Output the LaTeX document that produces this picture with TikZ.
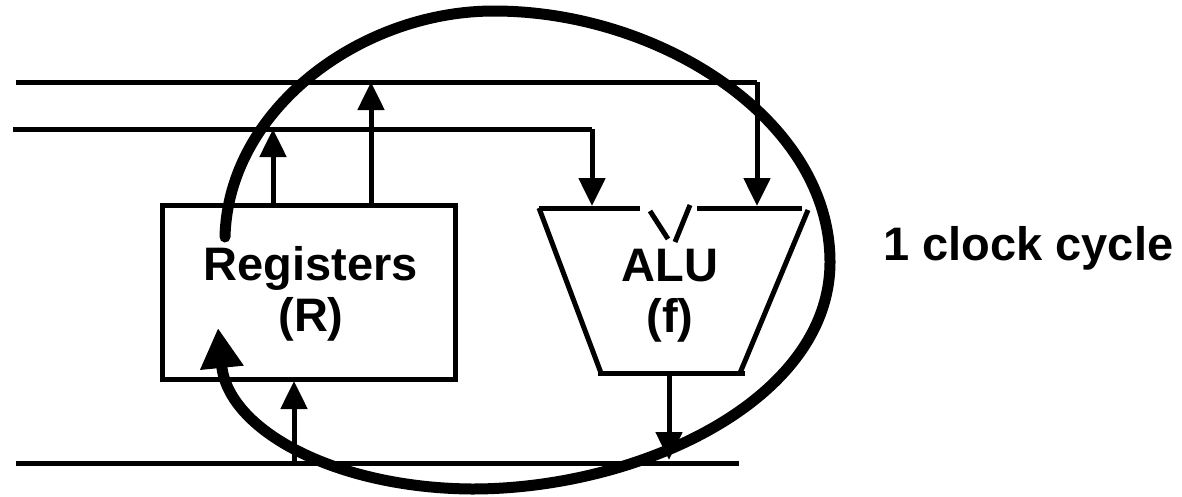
\documentclass[tikz,border=0pt]{standalone}
\usepackage{fontspec}
\setmainfont{Liberation Sans}
\usetikzlibrary{arrows.meta}
\begin{document}
\begin{tikzpicture}[x=1pt,y=-1pt,
  wire/.style={line width=5pt},
  arr/.style={wire,-{Triangle[length=28pt,width=26pt]}},
  loopline/.style={line width=11pt,line cap=round,-{Triangle[length=40pt,width=41pt]}},
  lbl/.style={font=\fontsize{47}{51}\selectfont\bfseries,align=center,inner sep=0pt}]
\useasboundingbox (0,0) rectangle (1182,496);
% register box
\node[draw,line width=5pt,minimum width=293pt,minimum height=174pt,inner sep=0pt] (reg) at (308.5,292) {};
\node[lbl] (regtxt) at (311,294) {Registers\\(R)};
% buses
\coordinate (b1s) at (16,82);  \coordinate (b1e) at (757,82);
\coordinate (b2s) at (13,129); \coordinate (b2e) at (592,129);
\coordinate (b3s) at (16,463); \coordinate (b3e) at (739,463);
\coordinate (a1) at (757,206); \coordinate (a2) at (592,206);
\draw[wire] (b1s) -- (b1e);
\draw[wire] (b2s) -- (b2e);
\draw[wire] (b3s) -- (b3e);
\draw[arr] (b1e) -- (a1);
\draw[arr] (b2e) -- (a2);
% register outputs
\coordinate (r1) at (273,205); \coordinate (r1t) at (273,129);
\coordinate (r2) at (371,205); \coordinate (r2t) at (371,82);
\draw[arr] (r1) -- (r1t);
\draw[arr] (r2) -- (r2t);
% register input
\coordinate (r3) at (294,463); \coordinate (r3t) at (294,381);
\draw[arr] (r3) -- (r3t);
% ALU
\coordinate (tl) at (539,208); \coordinate (tr) at (808,210);
\coordinate (bl) at (601,373); \coordinate (br) at (740,373);
\draw[wire] (tl) -- (640,208);
\draw[wire] (697,208) -- (802,208);
\draw[wire] (650,211) -- (668,239);
\draw[wire] (690,205) -- (675,242);
\draw[wire] (tl) -- (bl);
\draw[wire] (tr) -- (br);
\draw[wire] (598,373) -- (745,373);
\node[lbl] (alutxt) at (670,296) {ALU\\(f)};
% ALU output
\coordinate (ao) at (669,373); \coordinate (aot) at (669,460);
\draw[arr] (ao) -- (aot);
% clock loop
\coordinate (ls) at (225,237); \coordinate (ltop) at (494,11);
\coordinate (lright) at (830,262); \coordinate (lbot) at (472,489);
\coordinate (lend) at (218,328);
\draw[loopline] (ls) .. controls (228,110) and (360,11) .. (ltop)
  .. controls (660,11) and (830,120) .. (lright)
  .. controls (830,400) and (640,489) .. (lbot)
  .. controls (335,488) and (228,430) .. (lend);
\node[lbl,anchor=base west] (clk) at (883,260) {1 clock cycle};
\end{tikzpicture}
\end{document}
